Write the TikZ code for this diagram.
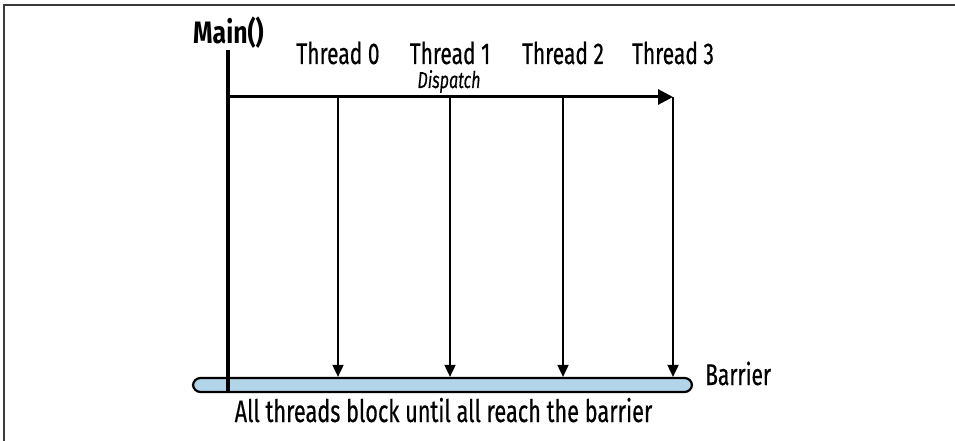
\documentclass[tikz,border=0pt]{standalone}
\usepackage{fontspec}
\setmainfont{Fira Sans}[FakeStretch=0.7, FakeBold=0.4]
\newfontfamily\headfont{Fira Sans}[FakeStretch=0.8]
\usetikzlibrary{arrows.meta}
\definecolor{barrierfill}{HTML}{B3D5EA}
\definecolor{framegray}{HTML}{3A3A3A}
\tikzset{
  lbl/.style={inner sep=0pt, anchor=base, font=\fontsize{30}{34}\selectfont},
  mainlbl/.style={inner sep=0pt, anchor=base west, font=\headfont\fontsize{31}{36}\selectfont\bfseries},
  dispatchlbl/.style={inner sep=0pt, anchor=base, font=\fontsize{23}{27}\selectfont\itshape},
  threadline/.style={line width=1.8pt, -{Triangle[length=12pt,width=11pt]}},
  dispatchline/.style={line width=3pt, -{Triangle[length=15pt,width=15pt]}},
  mainline/.style={line width=4.5pt},
  barrierbar/.style={draw, line width=2.2pt, fill=barrierfill, rounded corners=7.5pt,
    inner sep=0pt, minimum width=499pt, minimum height=14pt},
}
\begin{document}
\begin{tikzpicture}[x=1pt, y=-1pt]
  \useasboundingbox (0,0) rectangle (955,441);
  % frame
  \draw[framegray, line width=1.5pt] (4,441) -- (4,5) -- (955,5);

  % barrier bar and its labels
  \node[barrierbar] (barrier) at (442.5,385) {};
  \node[lbl, anchor=base west] (barrierlbl) at (705,385) {Barrier};
  \node[lbl, font=\fontsize{31}{36}\selectfont] (note) at (443.5,422) {All threads block until all reach the barrier};

  % main thread
  \node[mainlbl] (main) at (193,44) {Main()};
  \coordinate (maintop) at (228,50);
  \coordinate (mainbot) at (228,393);
  \coordinate (dstart) at (228,97);
  \coordinate (dend) at (673,97);

  % worker threads
  \foreach \n/\x in {0/338,1/450,2/563,3/673}{
    \node[lbl] (th\n) at (\x,64) {Thread \n};
    \coordinate (t\n) at (\x,97);
  }
  \node[dispatchlbl] (dispatch) at (449,88) {Dispatch};

  \foreach \n in {0,1,2,3}
    \draw[threadline] (t\n) -- (t\n |- barrier.north);

  \draw[dispatchline] (dstart) -- (dend);
  \draw[mainline] (maintop) -- (mainbot);
\end{tikzpicture}
\end{document}
